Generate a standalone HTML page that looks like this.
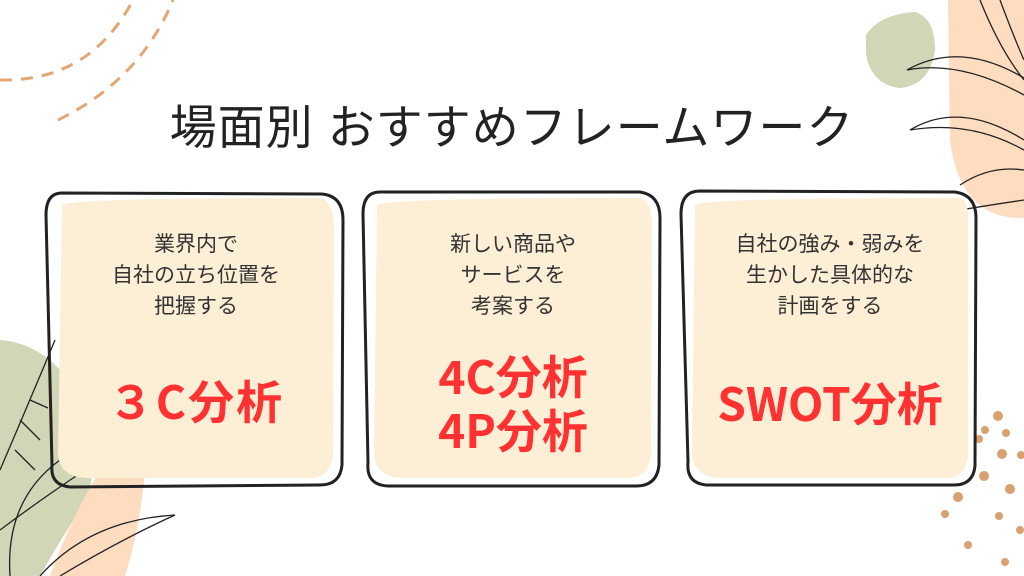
<!DOCTYPE html>
<html><head><meta charset="utf-8"><style>
html,body{margin:0;padding:0;}
body{width:1024px;height:576px;position:relative;overflow:hidden;background:#fff;font-family:"Liberation Sans","Noto Sans CJK JP",sans-serif;}
.t{position:absolute;left:0;width:100%;text-align:center;}
.title{top:89px;font-size:47px;color:#222;letter-spacing:1px;}
.d{font-size:21px;color:#333;line-height:31px;}
.r{font-size:46px;color:#ff3131;font-weight:bold;line-height:54px;font-family:"Noto Sans CJK JP",sans-serif;}
.box{position:absolute;top:0;}
</style></head><body>
<svg width="1024" height="576" style="position:absolute;left:0;top:0">
<path d="M0 80 Q90 82 133 0" fill="none" stroke="#e3a675" stroke-width="3" stroke-dasharray="12 9"/>
<path d="M58 120 Q140 80 173 0" fill="none" stroke="#e3a675" stroke-width="3" stroke-dasharray="12 9"/>
<path d="M948 0 L1024 0 L1024 218 Q960 220 950 140 Z" fill="#fddcbf"/>
<path d="M866 35 Q880 14 915 12 Q935 18 935 50 Q930 85 900 88 Q872 85 866 55 Z" fill="#d0d6b6"/>
<g fill="none" stroke="#222" stroke-width="1.3">
<path d="M907 70 Q960 40 1024 78"/><path d="M907 70 Q960 60 1024 95"/>
<path d="M910 130 Q960 100 1024 140"/><path d="M910 130 Q970 120 1024 150"/>
<path d="M960 185 Q990 165 1024 170"/><path d="M960 210 Q990 205 1024 200"/>
<path d="M1000 0 Q1015 40 1024 60"/><path d="M980 0 Q1000 50 1024 80"/>
</g>
<path d="M0 340 Q60 345 90 420 Q100 480 80 510 Q60 540 40 576 L0 576 Z" fill="#d0d6b6"/>
<path d="M100 470 L145 470 Q140 530 125 576 L50 576 Q70 520 100 470 Z" fill="#fddcbf"/>
<g fill="none" stroke="#222" stroke-width="1.3">
<path d="M0 470 Q30 400 55 340"/><path d="M10 576 Q5 500 60 460"/><path d="M0 530 Q40 500 85 470"/>
<path d="M40 576 Q90 520 175 515"/><path d="M60 576 Q120 540 175 515"/>
<path d="M20 420 L40 440"/><path d="M30 400 L48 408"/><path d="M15 450 L35 470"/>
</g>
<g fill="#d9a070">
<circle cx="998" cy="416" r="5"/><circle cx="985" cy="430" r="4"/><circle cx="1006" cy="433" r="4"/>
<circle cx="954" cy="414" r="5"/><circle cx="979" cy="439" r="4"/><circle cx="1002" cy="454" r="5"/>
<circle cx="1021" cy="455" r="4"/><circle cx="947" cy="466" r="4"/><circle cx="984" cy="476" r="5"/>
<circle cx="1010" cy="489" r="5"/><circle cx="958" cy="497" r="5"/><circle cx="999" cy="516" r="4"/>
<circle cx="1020" cy="530" r="4"/><circle cx="945" cy="514" r="4"/><circle cx="968" cy="545" r="4"/>
<circle cx="1005" cy="562" r="4"/>
</g>
<g fill="#fdeed6">
<path d="M62 205 Q70 198 320 198 Q334 200 334 230 L333 455 Q330 478 310 478 L85 478 Q60 476 58 455 Z"/>
<path d="M377 205 Q385 198 640 198 Q652 200 652 230 L651 455 Q648 478 628 478 L400 478 Q376 476 374 455 Z"/>
<path d="M695 205 Q703 198 960 198 Q970 200 968 230 L968 455 Q966 478 946 478 L718 478 Q694 476 692 455 Z"/>
</g>
<g fill="none" stroke="#222" stroke-width="3">
<path d="M62 193 L322 194 Q343 196 343 220 L342 465 Q340 486 318 485 L70 487 Q50 485 52 465 L46 215 Q46 193 62 193 Z"/>
<path d="M380 192 L640 192 Q660 195 660 218 L659 465 Q657 486 636 486 L388 486 Q366 485 368 463 L363 214 Q363 192 380 192 Z"/>
<path d="M700 191 L955 192 Q976 195 976 218 L975 466 Q973 486 952 485 L706 485 Q686 483 688 462 L681 214 Q681 191 700 191 Z"/>
</g>
</svg>
<div class="t title">場面別 おすすめフレームワーク</div>
<div class="box" style="left:58px;width:276px;">
 <div class="t d" style="top:229px">業界内で<br>自社の立ち位置を<br>把握する</div>
 <div class="t r" style="top:373px;letter-spacing:2px">３C分析</div>
</div>
<div class="box" style="left:374px;width:278px;">
 <div class="t d" style="top:229px">新しい商品や<br>サービスを<br>考案する</div>
 <div class="t r" style="top:348px">4C分析<br>4P分析</div>
</div>
<div class="box" style="left:692px;width:276px;">
 <div class="t d" style="top:229px">自社の強み・弱みを<br>生かした具体的な<br>計画をする</div>
 <div class="t r" style="top:375px">SWOT分析</div>
</div>
</body></html>
